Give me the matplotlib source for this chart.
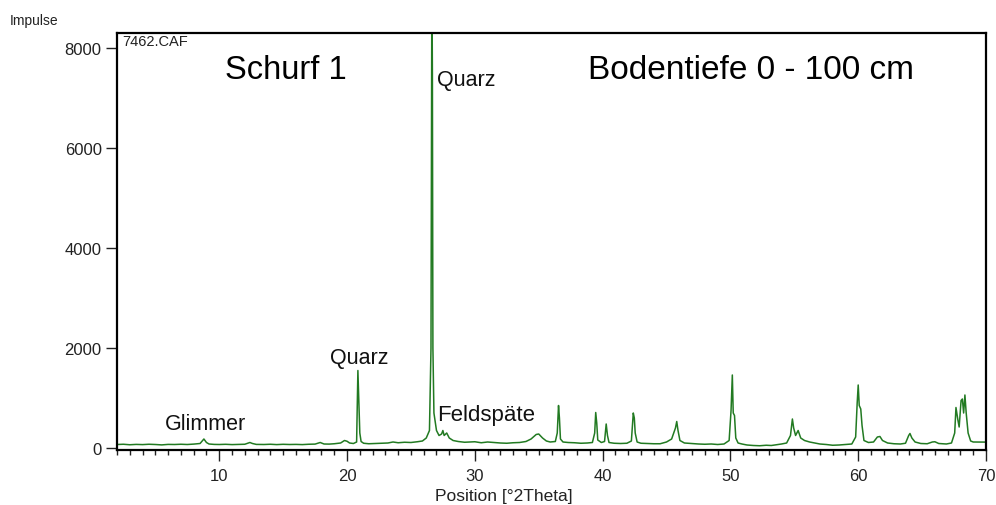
import matplotlib
matplotlib.use("Agg")
import matplotlib.pyplot as plt
from matplotlib.ticker import MultipleLocator, FixedLocator

plt.rcParams['font.family'] = ['Liberation Sans', 'DejaVu Sans']

# Diffractogram trace: position [°2Theta] and intensity [counts]
two_theta = [
    2.0, 2.5, 3.0, 3.5, 4.0, 4.5, 5.0, 5.5, 6.0, 6.5, 7.0, 7.5, 8.0, 8.5, 8.8, 9.0, 9.2, 9.6,
    10.0, 10.5, 11.0, 11.5, 12.0, 12.4, 12.6, 12.9, 13.5, 14.0, 14.5, 15.0, 15.5, 16.0, 16.5,
    17.0, 17.5, 17.9, 18.2, 18.6, 19.0, 19.5, 19.8, 20.0, 20.2, 20.5, 20.75, 20.85, 20.92,
    21.0, 21.1, 21.3, 21.7, 22.2, 22.7, 23.2, 23.6, 24.0, 24.5, 25.0, 25.5, 25.9, 26.2, 26.45,
    26.57, 26.64, 26.68, 26.72, 26.8, 27.0, 27.2, 27.4, 27.5, 27.6, 27.8, 28.0, 28.3, 28.7,
    29.2, 29.7, 30.0, 30.5, 31.0, 31.5, 32.0, 32.5, 33.0, 33.5, 34.0, 34.4, 34.8, 35.0, 35.3,
    35.6, 35.9, 36.3, 36.45, 36.55, 36.62, 36.7, 36.9, 37.3, 37.8, 38.3, 38.8, 39.2, 39.38,
    39.46, 39.54, 39.62, 39.9, 40.15, 40.28, 40.38, 40.5, 40.9, 41.4, 41.9, 42.25, 42.4,
    42.48, 42.55, 42.7, 43.0, 43.5, 44.0, 44.5, 45.0, 45.4, 45.7, 45.8, 45.9, 46.05, 46.4,
    46.9, 47.5, 48.0, 48.5, 49.0, 49.5, 49.9, 50.05, 50.15, 50.22, 50.32, 50.42, 50.6, 50.9,
    51.3, 51.8, 52.3, 52.8, 53.2, 53.6, 54.0, 54.4, 54.7, 54.85, 54.95, 55.1, 55.3, 55.5,
    55.8, 56.2, 56.6, 57.0, 57.5, 58.0, 58.5, 59.0, 59.5, 59.8, 59.92, 60.0, 60.08, 60.2,
    60.3, 60.45, 60.8, 61.2, 61.5, 61.7, 61.9, 62.3, 62.8, 63.3, 63.7, 63.95, 64.05, 64.2,
    64.45, 64.9, 65.4, 65.8, 66.0, 66.3, 66.9, 67.3, 67.55, 67.65, 67.8, 67.9, 68.05, 68.15,
    68.25, 68.35, 68.45, 68.6, 68.8, 69.0, 69.5, 70.0,
]
counts = [
    70, 75, 65, 72, 68, 75, 70, 62, 72, 70, 75, 70, 78, 90, 180, 110, 80, 72,
    70, 74, 68, 72, 75, 110, 90, 72, 70, 75, 68, 74, 70, 72, 68,
    75, 78, 110, 80, 78, 85, 100, 150, 135, 100, 90, 120, 1550, 950,
    300, 130, 95, 85, 90, 95, 100, 120, 105, 115, 110, 125, 140, 200, 350,
    2000, 9500, 7480, 2000, 700, 350, 250, 280, 350, 250, 300, 200, 150, 130,
    115, 120, 125, 105, 120, 110, 100, 95, 105, 110, 130, 180, 270, 280, 200,
    140, 120, 130, 300, 850, 600, 180, 120, 110, 105, 95, 100, 110, 300,
    710, 500, 160, 110, 130, 480, 250, 110, 95, 90, 95, 140, 700,
    600, 300, 120, 95, 90, 85, 85, 120, 180, 400, 530, 350, 150, 100,
    90, 80, 75, 80, 70, 80, 150, 750, 1460, 700, 650, 200, 100, 80,
    60, 50, 45, 55, 50, 65, 80, 100, 250, 580, 400, 250, 350, 200,
    150, 120, 100, 80, 70, 55, 60, 70, 80, 220, 900, 1260, 850, 780,
    450, 150, 110, 120, 220, 230, 150, 100, 85, 80, 95, 250, 290, 200,
    120, 90, 85, 120, 125, 90, 80, 100, 300, 810, 560, 420, 950, 980,
    700, 1060, 700, 300, 140, 120, 118, 118,
]

x_major = [10, 20, 30, 40, 50, 60, 70]
y_major = [0, 2000, 4000, 6000, 8000]

# Phase annotations: (text, position, intensity)
phase_labels = [
    ("Quarz", 27.05, 7250),
    ("Quarz", 18.65, 1700),
    ("Feldspäte", 27.05, 560),
    ("Glimmer", 5.75, 370),
]

W, H = 996, 506
fig = plt.figure(figsize=(W / 100, H / 100), dpi=100)
ax = fig.add_axes([117 / W, 1 - 451 / H, (986 - 117) / W, (451 - 34) / H])

ax.plot(two_theta, counts, color='#227a22', linewidth=1.1)

ax.set_xlim(2, 70)
ax.set_ylim(-40, 8300)

ax.xaxis.set_major_locator(FixedLocator(x_major))
ax.xaxis.set_minor_locator(MultipleLocator(1))
ax.yaxis.set_major_locator(FixedLocator(y_major))
ax.set_xticklabels([str(v) for v in x_major])
ax.set_yticklabels([str(v) for v in y_major])

ax.tick_params(axis='both', which='major', direction='out', length=8, width=1.0,
               labelsize=12, colors='#222222', pad=3)
ax.tick_params(axis='x', which='minor', direction='out', length=3.5, width=1.0, colors='#222222')
ax.tick_params(axis='x', which='major', pad=5)
for side in ax.spines.values():
    side.set_linewidth(1.6)
    side.set_color('black')

fig.text(10 / W, 1 - 25 / H, "Impulse", fontsize=10, color='#222222', ha='left', va='baseline')
fig.text((432 + 576) / 2 / W, 1 - 501 / H, "Position [°2Theta]", fontsize=12.5,
         color='#222222', ha='center', va='baseline')

ax.text(2.4, 8270, "7462.CAF", fontsize=10.5, color='#222222', ha='left', va='top')
ax.text(10.45, 7400, "Schurf 1", fontsize=23.5, color='black', ha='left', va='baseline')
ax.text(38.85, 7400, "Bodentiefe 0 - 100 cm", fontsize=24, color='black', ha='left', va='baseline')

for label, xpos, ypos, size in [(p[0], p[1], p[2], s) for p, s in zip(phase_labels, [15.5, 15.5, 16, 15.5])]:
    ax.text(xpos, ypos, label, fontsize=size, color='#111111', ha='left', va='baseline')

fig.savefig("out.png", dpi=100)
